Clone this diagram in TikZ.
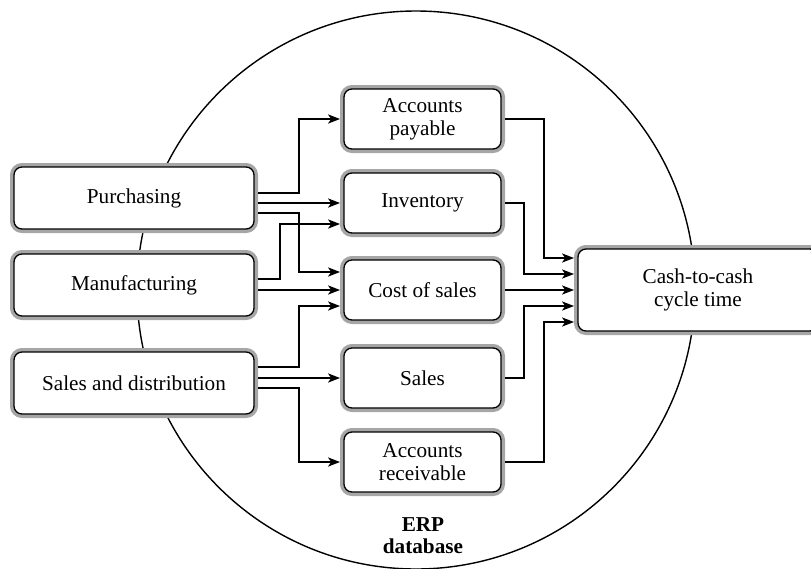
\documentclass[tikz,border=0pt]{standalone}
\usepackage{fontspec}
\setmainfont{Liberation Serif}
\usepackage{tikz}
\usetikzlibrary{calc,arrows.meta}
\tikzset{
  unit/.style={rounded corners=4pt, outer sep=2pt, align=center,
    font=\fontsize{10.6}{11.5}\selectfont,
    preaction={draw=black!35, line width=4pt},
    fill=white, draw=black, line width=0.65pt, inner sep=2pt},
  source/.style={unit, minimum width=120pt, minimum height=31pt},
  measure/.style={unit, minimum width=78.5pt, minimum height=30pt},
  goal/.style={unit, minimum width=120pt, minimum height=41pt},
  flow/.style={-{Stealth[length=6pt,width=4.6pt,inset=1.6pt]}, draw=black, line width=0.7pt},
  erp/.style={draw=black, line width=0.7pt}
}

\begin{document}
\begin{tikzpicture}[x=0.5pt, y=-0.5pt]
  \useasboundingbox (0,0) rectangle (811,569);
  % ERP database circle
  \draw[erp] (416,290) circle [radius=139.5pt];
  \node[font=\fontsize{10.6}{11}\selectfont\bfseries, align=center] (db) at (423,536) {ERP\\database};

  % business processes
  \node[source] (purch) at (134,198) {Purchasing};
  \node[source] (manuf) at (134,285) {Manufacturing};
  \node[source] (salesdist) at (134,383) {Sales and distribution};

  % measures
  \node[measure] (ap) at (422.5,119) {Accounts\\payable};
  \node[measure] (inv) at (422.5,203) {Inventory};
  \node[measure] (cos) at (422.5,290) {Cost of sales};
  \node[measure] (sales) at (422.5,378) {Sales};
  \node[measure] (ar) at (422.5,462) {Accounts\\receivable};

  \node[goal] (cash) at (698,290) {Cash-to-cash\\cycle time};

  % purchasing
  \draw[flow] ([yshift=2.5pt]purch.east) -| ($(purch.east)!0.5!(ap.west)$) |- (ap.west);
  \draw[flow] (purch.east |- inv.west) -- (inv.west);
  \draw[flow] ([yshift=-7.5pt]purch.east) -| ($(purch.east)!0.5!(cos.west)$) |- ([yshift=9pt]cos.west);
  % manufacturing
  \draw[flow] ([yshift=3pt]manuf.east) -| ($(manuf.east)!0.27!(inv.west)$) |- ([yshift=-10.5pt]inv.west);
  \draw[flow] (manuf.east |- cos.west) -- (cos.west);
  % sales and distribution
  \draw[flow] ([yshift=8pt]salesdist.east) -| ($(salesdist.east)!0.5!(cos.west)$) |- ([yshift=-8pt]cos.west);
  \draw[flow] (salesdist.east |- sales.west) -- (sales.west);
  \draw[flow] ([yshift=-2.5pt]salesdist.east) -| ($(salesdist.east)!0.5!(ar.west)$) |- (ar.west);

  % into cash-to-cash cycle time
  \draw[flow] (ap.east) -| ($(ap.east)!0.565!(cash.west)$) |- ([yshift=16pt]cash.west);
  \draw[flow] (inv.east) -| ($(inv.east)!0.275!(cash.west)$) |- ([yshift=8pt]cash.west);
  \draw[flow] (cos.east) -- (cash.west);
  \draw[flow] (sales.east) -| ($(sales.east)!0.275!(cash.west)$) |- ([yshift=-8pt]cash.west);
  \draw[flow] (ar.east) -| ($(ar.east)!0.565!(cash.west)$) |- ([yshift=-16pt]cash.west);
\end{tikzpicture}
\end{document}
